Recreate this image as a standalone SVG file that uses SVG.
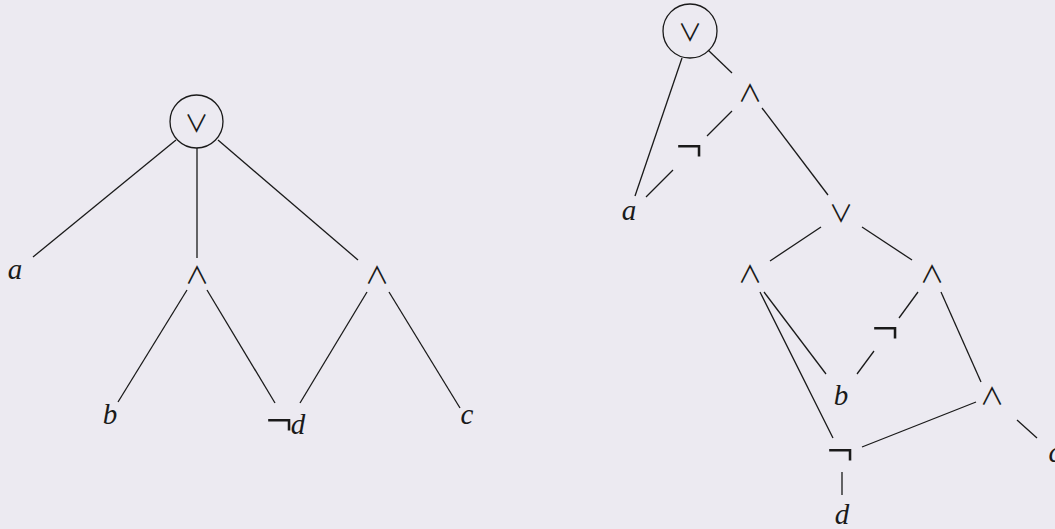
<svg xmlns="http://www.w3.org/2000/svg" width="1055" height="529" viewBox="0 0 1055 529">
<style>
.bg{fill:#ECEAF1}
.e{stroke:#1a1a1a;stroke-width:1.3;fill:none}
.v{font-family:"Liberation Serif",serif;font-style:italic;font-size:29px;fill:#1a1a1a;text-anchor:middle}
.s{font-family:"Noto Sans CJK JP",sans-serif;font-size:24px;fill:#1a1a1a;text-anchor:middle}
.n{font-family:Inter,"Noto Sans CJK JP",sans-serif;font-weight:200;font-style:normal;font-size:60px;fill:#1a1a1a;text-anchor:middle}
</style>
<rect class="bg" width="1055" height="529"/>
<g id="connectors">
<line class="e" x1="176" y1="140" x2="33" y2="257"/>
<line class="e" x1="197" y1="148" x2="197" y2="258"/>
<line class="e" x1="218" y1="140" x2="358" y2="260"/>
<line class="e" x1="187" y1="290" x2="118" y2="402"/>
<line class="e" x1="207" y1="290" x2="275" y2="403"/>
<line class="e" x1="367" y1="292" x2="300" y2="403"/>
<line class="e" x1="389" y1="292" x2="460" y2="408"/>
<line class="e" x1="708" y1="50" x2="732" y2="73"/>
<line class="e" x1="682" y1="58" x2="635" y2="196"/>
<line class="e" x1="732" y1="111" x2="707" y2="136"/>
<line class="e" x1="673" y1="170" x2="646" y2="197"/>
<line class="e" x1="762" y1="108" x2="828" y2="195"/>
<line class="e" x1="821" y1="227" x2="770" y2="261"/>
<line class="e" x1="862" y1="227" x2="912" y2="260"/>
<line class="e" x1="764" y1="292" x2="826" y2="374"/>
<line class="e" x1="760" y1="292" x2="833" y2="438"/>
<line class="e" x1="918" y1="292" x2="899" y2="318"/>
<line class="e" x1="874" y1="351" x2="857" y2="374"/>
<line class="e" x1="941" y1="292" x2="981" y2="382"/>
<line class="e" x1="1017" y1="420" x2="1037" y2="438"/>
<line class="e" x1="976" y1="402" x2="862" y2="447"/>
<line class="e" x1="842" y1="472" x2="842" y2="495"/>
</g>
<g id="L-root"><circle class="e" cx="196.5" cy="121.5" r="26.5"/><text class="s" x="196.5" y="132">∨</text></g>
<g id="L-a"><text class="v" x="15" y="279">a</text></g>
<g id="L-and1"><text class="s" x="197" y="284">∧</text></g>
<g id="L-and2"><text class="s" x="377" y="284">∧</text></g>
<g id="L-b"><text class="v" x="110" y="424">b</text></g>
<g id="L-notd"><text class="n" x="280" y="440">¬</text><text class="v" x="298" y="434">d</text></g>
<g id="L-c"><text class="v" x="467" y="424">c</text></g>
<g id="R-root"><circle class="e" cx="690" cy="31" r="27"/><text class="s" x="690" y="41">∨</text></g>
<g id="R-and1"><text class="s" x="750" y="102">∧</text></g>
<g id="R-not1"><text class="n" x="690" y="166">¬</text></g>
<g id="R-a"><text class="v" x="629" y="220">a</text></g>
<g id="R-or"><text class="s" x="841" y="222">∨</text></g>
<g id="R-and2"><text class="s" x="750" y="283">∧</text></g>
<g id="R-and3"><text class="s" x="932" y="283">∧</text></g>
<g id="R-not2"><text class="n" x="886" y="348">¬</text></g>
<g id="R-b"><text class="v" x="841" y="405">b</text></g>
<g id="R-and4"><text class="s" x="992" y="405">∧</text></g>
<g id="R-c"><text class="v" x="1055" y="462">c</text></g>
<g id="R-not3"><text class="n" x="841" y="470">¬</text></g>
<g id="R-d"><text class="v" x="842" y="524">d</text></g>
</svg>
